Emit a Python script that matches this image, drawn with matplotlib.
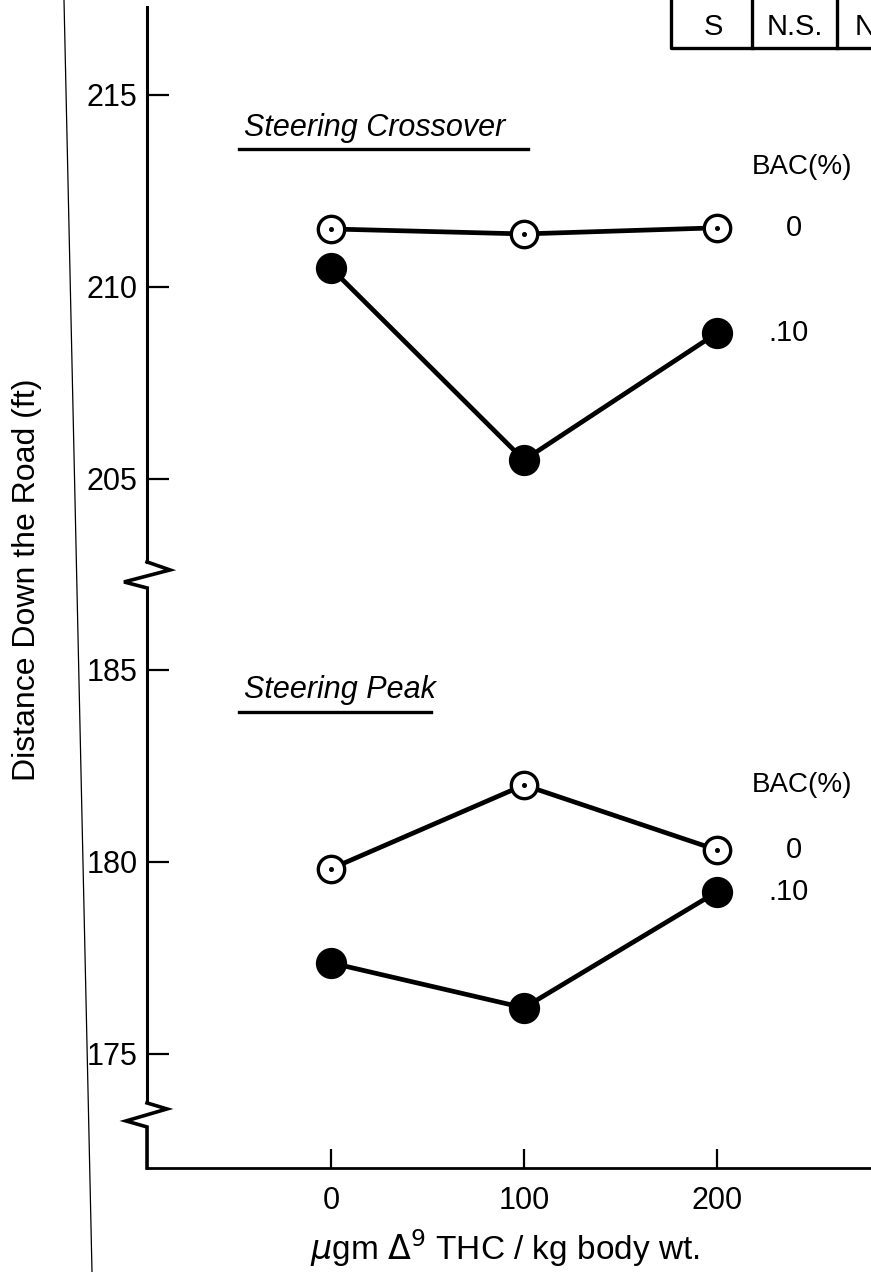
import matplotlib.pyplot as plt
from matplotlib.lines import Line2D
from matplotlib.transforms import blended_transform_factory

plt.rcParams['font.family'] = ['Liberation Sans', 'DejaVu Sans']

# dose of delta-9 THC (ugm/kg body wt.)
dose = [0, 100, 200]

# distance down the road (ft) at steering crossover
crossover_bac0 = [211.51, 211.38, 211.54]
crossover_bac10 = [210.49, 205.49, 208.80]

# distance down the road (ft) at steering peak
peak_bac0 = [179.82, 182.00, 180.31]
peak_bac10 = [177.37, 176.20, 179.22]

top_ticks = [205, 210, 215]
bot_ticks = [175, 180, 185]
x_ticks = [0, 100, 200]

fig = plt.figure(figsize=(8.71, 12.72), dpi=100)
ax_top = fig.add_axes([0.1688, 0.5480, 0.84, 0.4465])
ax_bot = fig.add_axes([0.1688, 0.0818, 0.84, 0.4662])

xlim = (-95.3, 283.8)
ax_top.set_xlim(*xlim)
ax_bot.set_xlim(*xlim)
ax_top.set_ylim(202.5, 217.29)
ax_bot.set_ylim(172.03, 187.47)

ppu = 38.4          # pixels per ft on both panels
half_gap = 13 / ppu
lower_break = 173.41

for ax in (ax_top, ax_bot):
    ax.patch.set_visible(False)
    ax.spines['top'].set_visible(False)
    ax.spines['right'].set_visible(False)
    ax.spines['left'].set_linewidth(2.2)
    ax.tick_params(axis='y', direction='in', length=16, width=1.6,
                   pad=7, labelsize=22)

ax_top.spines['bottom'].set_visible(False)
ax_top.spines['left'].set_bounds(202.5 + half_gap, 217.29)
ax_top.set_xticks([])
ax_top.set_yticks(top_ticks)

ax_bot.spines['bottom'].set_linewidth(2.0)
ax_bot.spines['left'].set_bounds(lower_break + half_gap, 187.47 - half_gap)
ax_bot.set_yticks(bot_ticks)
ax_bot.set_xticks(x_ticks)
ax_bot.tick_params(axis='x', direction='in', length=14, width=1.6,
                   pad=13, labelsize=22)


def zigzag(ax, y_mid, pts):
    # break mark drawn in pixel offsets around the left spine
    base = blended_transform_factory(ax.transAxes, ax.transData)
    x0, y0 = base.transform((0, y_mid))
    xs = [(x0 + dx) / fig.bbox.width for dx, dy in pts]
    ys = [(y0 + dy) / fig.bbox.height for dx, dy in pts]
    fig.add_artist(Line2D(xs, ys, transform=fig.transFigure, color='black',
                          lw=2.6, solid_joinstyle='miter'))


zigzag(ax_bot, 187.47, [(0, 13), (23, 5), (-23, -7), (0, -13)])
zigzag(ax_bot, lower_break, [(0, 12), (20, 6), (-21, -6), (0, -12), (0, -53)])


def series(ax, y, filled):
    ax.plot(dose, y, color='black', lw=3.4, zorder=2)
    if filled:
        ax.plot(dose, y, 'o', ms=21.5, color='black', zorder=3)
    else:
        ax.plot(dose, y, 'o', ms=19, mfc='white', mec='black', mew=2.4,
                zorder=3)
        ax.plot(dose, y, 'o', ms=2.6, color='black', zorder=4)


series(ax_top, crossover_bac0, False)
series(ax_top, crossover_bac10, True)
series(ax_bot, peak_bac0, False)
series(ax_bot, peak_bac10, True)

# panel titles, underlined
ax_top.text(-45, 214.15, 'Steering Crossover', fontsize=22, style='italic',
            va='center', ha='left')
ax_top.plot([-47.5, 102], [213.6, 213.6], color='black', lw=2.4, clip_on=False)
ax_bot.text(-45, 184.48, 'Steering Peak', fontsize=22, style='italic',
            va='center', ha='left')
ax_bot.plot([-47.5, 52], [183.9, 183.9], color='black', lw=2.4, clip_on=False)

# BAC legend labels
for ax, y_hdr, y0, y10 in ((ax_top, 213.12, crossover_bac0[-1], crossover_bac10[-1]),
                           (ax_bot, 182.0, peak_bac0[-1], peak_bac10[-1])):
    ax.text(218, y_hdr, 'BAC(%)', fontsize=20, va='center', ha='left')
    ax.text(240, y0, '0', fontsize=21, va='center', ha='center')
    ax.text(237, y10, '.10', fontsize=21, va='center', ha='center')

fig.text(27 / 871, 1 - 580 / 1272, 'Distance Down the Road (ft)', rotation=90,
         fontsize=23, ha='center', va='center')
fig.text(505 / 871, 1 - 1248 / 1272, r'$\mu$gm $\Delta^9$ THC / kg body wt.',
         fontsize=24, ha='center', va='center')

# significance box in the upper right corner
box = dict(color='black', lw=2.4, transform=fig.transFigure)
H = 1272.0
W = 871.0
fig.add_artist(Line2D([671 / W, 671 / W, 871 / W], [1, 1 - 48 / H, 1 - 48 / H], **box))
fig.add_artist(Line2D([752 / W, 752 / W], [1, 1 - 48 / H], **box))
fig.add_artist(Line2D([837 / W, 837 / W], [1, 1 - 48 / H], **box))
fig.text(713 / W, 1 - 27 / H, 'S', fontsize=21, ha='center', va='center')
fig.text(795 / W, 1 - 27 / H, 'N.S.', fontsize=21, ha='center', va='center')
fig.text(855 / W, 1 - 27 / H, 'N', fontsize=21, ha='left', va='center')

# page edge
fig.add_artist(Line2D([64 / W, 92 / W], [1, 0], color='black', lw=0.9,
                      transform=fig.transFigure))

fig.savefig('out.png', dpi=100)
